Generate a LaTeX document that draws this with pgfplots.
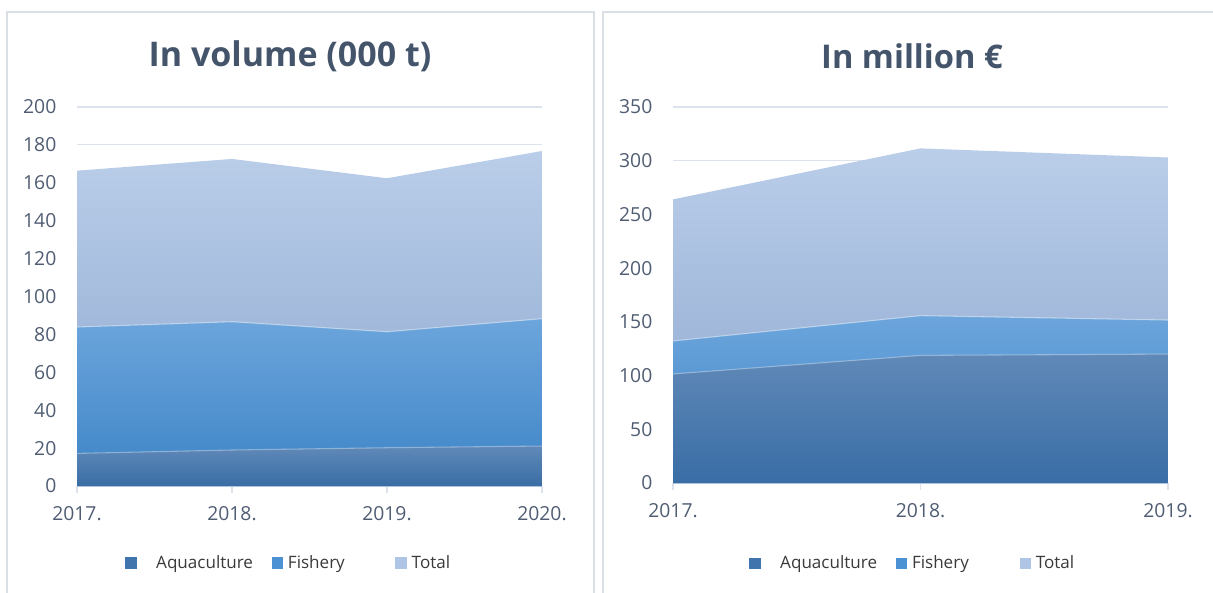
\documentclass[border=0pt]{standalone}
\usepackage{pgfplots}
\pgfplotsset{compat=1.18}
\usepackage{fontspec}
\setmainfont{Open Sans}
\definecolor{ttl}{HTML}{44546A}
\definecolor{tck}{HTML}{4F5C72}
\definecolor{lgt}{HTML}{3A3A3A}
\definecolor{grd}{HTML}{DCE3EC}
\definecolor{brd}{HTML}{DADFE6}
\definecolor{aqT}{HTML}{6089B8}
\definecolor{aqB}{HTML}{396DA5}
\definecolor{fiT}{HTML}{6CA5DC}
\definecolor{fiB}{HTML}{3D84C6}
\definecolor{toT}{HTML}{BACEE9}
\definecolor{toB}{HTML}{8CA6CF}
\definecolor{aqL}{HTML}{3F74AD}
\definecolor{fiL}{HTML}{4C91D4}
\definecolor{toL}{HTML}{AEC5E5}

\pgfplotstableread{
year total fishery aqua
2017 166.4 83.9 17.2
2018 172.6 86.7 19.0
2019 162.4 81.4 20.2
2020 176.8 88.3 21.1
}\voltab
\pgfplotstableread{
year total fishery aqua
2017 264.0 132.2 101.5
2018 311.5 155.8 118.8
2019 303.0 151.7 120.0
}\valtab

\pgfplotsset{
  panel/.style={
    scale only axis,
    ymin=0,
    /pgf/number format/assume math mode=true,
    ymajorgrids,
    grid style={draw=grd, line width=0.8bp},
    axis line style={draw=none},
    xtick style={draw=grd, line width=0.8bp},
    ytick style={draw=none},
    major tick length=5bp,
    tick align=outside,
    xtick pos=bottom,
    ytick pos=left,
    tick label style={font=\fontsize{14.5bp}{17bp}\selectfont, text=tck},
    yticklabel style={xshift=-7bp},
    xticklabel style={yshift=-7bp},
    legend columns=3,
    legend style={draw=none, fill=none, anchor=center,
      font=\fontsize{12.8bp}{15bp}\selectfont, text=lgt,
      /tikz/every odd column/.append style={column sep=2bp}},
    legend cell align=left,
    legend image code/.code={\fill[##1] (0bp,-3.9bp) rectangle (7.8bp,3.9bp);},
    every axis plot/.append style={forget plot},
  },
}

\begin{document}
\begin{tikzpicture}
\useasboundingbox (0,0) rectangle ({1213*0.75bp},{-592*0.75bp});
\draw[brd, line width=0.8bp] ({7*0.75bp},{-12*0.75bp}) rectangle ({594*0.75bp},{-640*0.75bp});
\draw[brd, line width=0.8bp] ({603*0.75bp},{-12*0.75bp}) rectangle ({1260*0.75bp},{-640*0.75bp});
\node[font=\fontsize{25.5bp}{30bp}\selectfont\bfseries, text=ttl] at ({290*0.75bp},{-56*0.75bp}) {In volume (000 t)};
\node[font=\fontsize{24.5bp}{30bp}\selectfont\bfseries, text=ttl] at ({912*0.75bp},{-56*0.75bp}) {In million €};

\begin{axis}[panel,
  at={({77*0.75bp},{-486*0.75bp})}, anchor=south west,
  width={465*0.75bp}, height={379*0.75bp},
  xmin=2017, xmax=2020, ymax=200,
  xtick={2017,2018,2019,2020}, xticklabels={2017.,2018.,2019.,2020.},
  ytick={0,20,...,200},
  legend style={at={(0.456,-0.203)}},
]
\addlegendimage{aqL}\addlegendentry{\hspace*{11bp}Aquaculture\hspace*{12bp}}
\addlegendimage{fiL}\addlegendentry{Fishery\hspace*{36bp}}
\addlegendimage{toL}\addlegendentry{Total}
\addplot[draw=none, top color=toT, bottom color=toB] table[x=year,y=total]{\voltab} \closedcycle;
\addplot[draw=none, top color=fiT, bottom color=fiB] table[x=year,y=fishery]{\voltab} \closedcycle;
\addplot[draw=none, top color=aqT, bottom color=aqB] table[x=year,y=aqua]{\voltab} \closedcycle;
\addplot[draw=white, draw opacity=0.45, line width=0.8bp] table[x=year,y=fishery]{\voltab};
\addplot[draw=white, draw opacity=0.35, line width=0.8bp] table[x=year,y=aqua]{\voltab};
\end{axis}

\begin{axis}[panel,
  at={({673*0.75bp},{-483*0.75bp})}, anchor=south west,
  width={495*0.75bp}, height={376*0.75bp},
  xmin=2017, xmax=2019, ymax=350,
  xtick={2017,2018,2019}, xticklabels={2017.,2018.,2019.},
  ytick={0,50,...,350},
  legend style={at={(0.485,-0.213)}},
]
\addlegendimage{aqL}\addlegendentry{\hspace*{11bp}Aquaculture\hspace*{12bp}}
\addlegendimage{fiL}\addlegendentry{Fishery\hspace*{36bp}}
\addlegendimage{toL}\addlegendentry{Total}
\addplot[draw=none, top color=toT, bottom color=toB] table[x=year,y=total]{\valtab} \closedcycle;
\addplot[draw=none, top color=fiT, bottom color=fiB] table[x=year,y=fishery]{\valtab} \closedcycle;
\addplot[draw=none, top color=aqT, bottom color=aqB] table[x=year,y=aqua]{\valtab} \closedcycle;
\addplot[draw=white, draw opacity=0.45, line width=0.8bp] table[x=year,y=fishery]{\valtab};
\addplot[draw=white, draw opacity=0.35, line width=0.8bp] table[x=year,y=aqua]{\valtab};
\end{axis}
\end{tikzpicture}
\end{document}
